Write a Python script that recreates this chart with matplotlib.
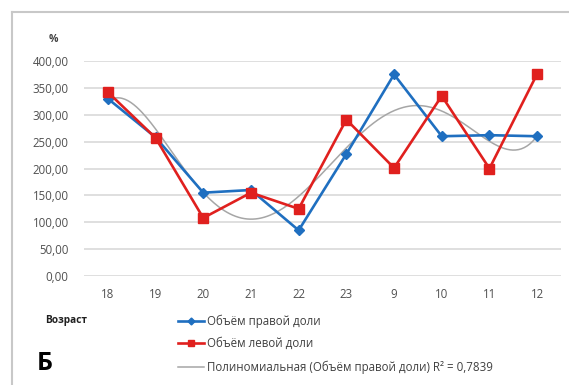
import numpy as np
import matplotlib.pyplot as plt

# возраст (категории) и объёмы долей, %
ages = ['18', '19', '20', '21', '22', '23', '9', '10', '11', '12']
right_lobe = [330, 258, 155, 160, 85, 227, 375, 260, 262, 260]
left_lobe = [342, 257, 108, 155, 125, 291, 201, 335, 200, 376]
r2_text = '0,7839'
POLY_ORDER = 5

plt.rcParams['font.family'] = ['Open Sans', 'DejaVu Sans']

fig = plt.figure(figsize=(5.69, 3.85), dpi=100)
W, H = 569, 385
ax = fig.add_axes([84 / W, (H - 276) / H, 477 / W, 215 / H])

x = np.arange(len(ages))

# полиномиальная линия тренда по правой доле (как в Excel, x = 1..n)
coef = np.polyfit(x + 1, right_lobe, POLY_ORDER)
xs = np.linspace(0, len(ages) - 1, 300)
trend = np.polyval(coef, xs + 1)

ax.plot(xs, trend, color='#a6a6a6', lw=1.1, zorder=2)
ax.plot(x, right_lobe, color='#1f6fc0', lw=1.9, marker='D', ms=5.5, zorder=3)
ax.plot(x, left_lobe, color='#e0201e', lw=1.9, marker='s', ms=7, zorder=4)

ax.set_xlim(-0.5, len(ages) - 0.5)
ax.set_ylim(0, 400)
ax.set_yticks(np.arange(0, 401, 50))
ax.set_yticklabels([f'{v:.2f}'.replace('.', ',') for v in range(0, 401, 50)])
ax.set_xticks(x)
ax.set_xticklabels(ages)
ax.grid(axis='y', color='#d9d9d9', lw=1.2)
ax.set_axisbelow(True)
for s in ax.spines.values():
    s.set_visible(False)
ax.tick_params(length=0, labelsize=8.3, labelcolor='#505050')
ax.tick_params(axis='y', pad=11)
ax.tick_params(axis='x', pad=9)

# рамка области диаграммы
fig.add_artist(plt.Line2D([12 / W, 12 / W], [0, 1 - 12 / H], color='#c8c8c8', lw=1.5))
fig.add_artist(plt.Line2D([12 / W, 1], [1 - 12 / H, 1 - 12 / H], color='#c8c8c8', lw=1.5))

fig.text(53 / W, 1 - 40 / H, '%', fontsize=7.5, fontweight='bold', color='#404040',
         ha='center', va='center')
fig.text(45 / W, 1 - 321 / H, 'Возраст', fontsize=7.3, fontweight='bold', color='#202020',
         va='center')
fig.text(37 / W, 1 - 364 / H, 'Б', fontsize=18, fontweight='bold', color='black', va='center')

# легенда
rows = [
    (321, '#1f6fc0', 'D', 3.5, 'Объём правой доли'),
    (343, '#e0201e', 's', 4.5, 'Объём левой доли'),
    (367, '#a6a6a6', None, 0, f'Полиномиальная (Объём правой доли) R² = {r2_text}'),
]
for y, c, m, ms, label in rows:
    yy = 1 - y / H
    fig.add_artist(plt.Line2D([178 / W, 204 / W], [yy, yy], color=c,
                              lw=1.9 if m else 1.1))
    if m:
        fig.add_artist(plt.Line2D([191 / W], [yy], color=c, marker=m, ms=ms, lw=0))
    fig.text(207 / W, yy, label, fontsize=8.3, color='#404040', va='center')

fig.savefig('out.png', dpi=100)
